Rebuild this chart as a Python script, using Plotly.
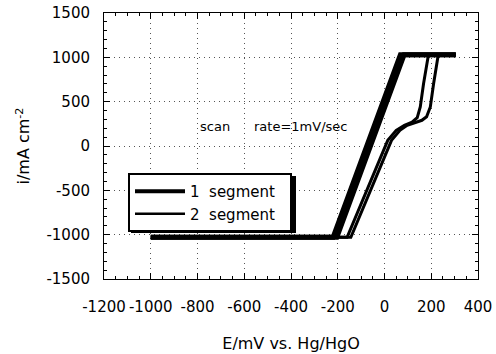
import plotly.graph_objects as go

# Segment 1 (two overlapping scans)
seg1a_E = [-1000, -220, 68, 305]
seg1a_i = [-1030, -1030, 1030, 1030]
seg1b_E = [-1000, -204, 84, 305]
seg1b_i = [-1030, -1030, 1030, 1030]

# Segment 2 (two scans, diverging near the top)
seg2a_E = [-1000, -160, 14, 50, 85, 118, 140, 153, 167, 182, 188, 305]
seg2a_i = [-1030, -1030, 64, 177, 233, 268, 320, 440, 702, 965, 1030, 1030]
seg2b_E = [-1000, -144, 30, 66, 97, 128, 160, 180, 196, 210, 222, 230, 305]
seg2b_i = [-1030, -1030, 64, 177, 233, 265, 290, 330, 440, 702, 928, 1030, 1030]

legend_labels = ["1\u00a0\u00a0segment\u00a0\u00a0", "2\u00a0\u00a0segment\u00a0\u00a0"]

x_ticks = [-1200, -1000, -800, -600, -400, -200, 0, 200, 400]
x_ticktext = ["-1200", "-1000", "-800", "-600", "-400", "-200", "0", "200", "400"]
y_ticks = [-1500, -1000, -500, 0, 500, 1000, 1500]
y_ticktext = ["-1500", "-1000", "-500", "0", "500", "1000", "1500"]

FONT = "DejaVu Sans"

fig = go.Figure()
for E, I in [(seg1a_E, seg1a_i), (seg1b_E, seg1b_i)]:
    fig.add_trace(go.Scatter(x=E, y=I, mode="lines", line=dict(color="black", width=5),
                             showlegend=False, hoverinfo="skip"))
for E, I in [(seg2a_E, seg2a_i), (seg2b_E, seg2b_i)]:
    fig.add_trace(go.Scatter(x=E, y=I, mode="lines", line=dict(color="black", width=3),
                             showlegend=False, hoverinfo="skip"))

# legend entries
fig.add_trace(go.Scatter(x=[None], y=[None], mode="lines", name=legend_labels[0],
                         line=dict(color="black", width=4)))
fig.add_trace(go.Scatter(x=[None], y=[None], mode="lines", name=legend_labels[1],
                         line=dict(color="black", width=2.5)))

L, R, T, B = 104, 18, 13, 75
W, H = 496, 354
pw, ph = W - L - R, H - T - B

def px(xp):
    return (xp - L) / pw

def py(yp):
    return (H - B - yp) / ph

# legend drop shadow
fig.add_shape(type="rect", xref="paper", yref="paper",
              x0=px(131), x1=px(296), y0=py(233), y1=py(176),
              fillcolor="black", line=dict(width=0), layer="above")

fig.add_annotation(x=-800, y=222, text="scan", showarrow=False, xanchor="left",
                   font=dict(family=FONT, size=13, color="black"))
fig.add_annotation(x=-568, y=222, text="rate=1mV/sec", showarrow=False, xanchor="left",
                   font=dict(family=FONT, size=13, color="black"))

axis_common = dict(
    showline=True, linecolor="black", linewidth=1, mirror="allticks",
    ticks="inside", ticklen=6, tickwidth=1, tickcolor="black",
    showgrid=True, gridcolor="#555", gridwidth=1, griddash="1px,4px",
    zeroline=False,
    tickfont=dict(family=FONT, size=15, color="black"),
)

fig.update_layout(
    width=W, height=H,
    margin=dict(l=L, r=R, t=T, b=B, autoexpand=False),
    paper_bgcolor="white", plot_bgcolor="white",
    font=dict(family=FONT, color="black"),
    xaxis=dict(range=[-1200, 400], tickmode="array", tickvals=x_ticks, ticktext=x_ticktext,
               tickangle=0, ticklabelstandoff=14,
               minor=dict(dtick=50, ticks="inside", ticklen=3, tickcolor="black", showgrid=False),
               title=dict(text="E/mV vs. Hg/HgO", font=dict(family=FONT, size=16), standoff=22),
               **axis_common),
    yaxis=dict(range=[-1500, 1500], tickmode="array", tickvals=y_ticks, ticktext=y_ticktext,
               ticklabelstandoff=10,
               minor=dict(dtick=100, ticks="inside", ticklen=3, tickcolor="black", showgrid=False),
               title=dict(text="i/mA cm<sup>-2</sup>", font=dict(family=FONT, size=16), standoff=12),
               **axis_common),
    legend=dict(x=px(128), y=py(173), xanchor="left", yanchor="top",
                bgcolor="white", bordercolor="black", borderwidth=2,
                font=dict(family=FONT, size=15, color="black"),
                itemwidth=50, tracegroupgap=0),
    showlegend=True,
)

fig.write_html("out.html")
